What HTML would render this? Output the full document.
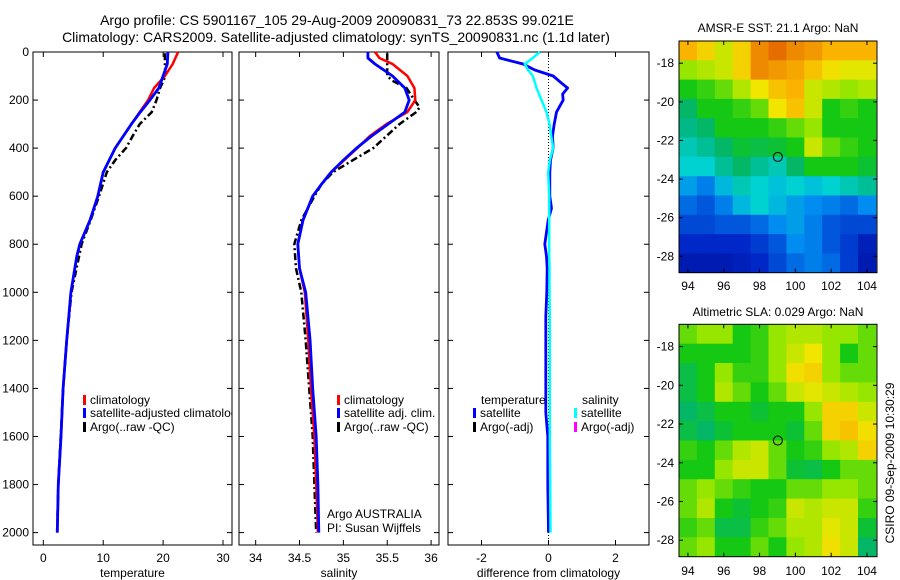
<!DOCTYPE html>
<html><head><meta charset="utf-8"><style>
body{margin:0;background:#fff;}
svg{display:block;font-family:"Liberation Sans",sans-serif;}
text{fill:#000;}
</style></head><body>
<svg id="fig" width="900" height="580" viewBox="0 0 900 580"></svg>
<script>
// ---------- data ----------
const depthT = [0,50,100,150,200,250,300,400,500,600,700,800,850,1000,1200,1400,1600,1800,2000];
const tempClim = [22.5,21.6,20.3,18.5,17.5,16.1,14.7,12.0,10.0,9.1,7.8,6.1,5.6,4.6,3.9,3.3,2.95,2.5,2.33];
const tempSat = [20.8,20.7,20.0,19.3,17.8,16.2,14.7,12.0,10.0,9.1,7.8,6.1,5.6,4.6,3.9,3.3,2.95,2.5,2.33];
const depthA = [5,50,100,150,200,250,300,350,400,450,500,600,700,800,1000,1200,1400,1600,1800,2000];
const tempArgo = [20.3,20.3,20.4,19.5,18.9,18.1,16.1,14.9,13.8,12.0,10.6,9.3,7.9,6.4,4.7,3.9,3.3,2.9,2.5,2.3];
const depthS = [0,25,50,100,150,200,250,300,350,400,450,500,550,600,700,800,900,1000,1200,1400,1600,1800,2000];
const salClim = [35.36,35.41,35.56,35.73,35.81,35.82,35.73,35.49,35.30,35.16,35.01,34.86,34.75,34.65,34.54,34.48,34.50,34.56,34.60,34.63,34.67,34.69,34.71];
const salSat = [35.28,35.28,35.36,35.56,35.70,35.75,35.70,35.51,35.32,35.15,35.00,34.86,34.75,34.65,34.54,34.48,34.50,34.57,34.62,34.65,34.69,34.71,34.72];
const depthSA = [5,50,100,120,150,200,230,250,300,350,400,450,500,550,600,700,800,900,1000,1200,1400,1600,1800,2000];
const salArgo = [35.5,35.5,35.5,35.56,35.72,35.81,35.87,35.83,35.64,35.49,35.34,35.11,34.88,34.75,34.67,34.52,34.44,34.46,34.52,34.57,34.61,34.65,34.67,34.69];
const depthD = [0,25,50,75,100,130,150,175,200,250,300,350,400,450,500,600,650,700,800,850,900,1000,1100,1300,1500,1600,1800,2000];
const diffTemp = [-1.54,-1.46,-0.76,-0.41,0.14,0.39,0.57,0.42,0.44,0.24,0.17,0.12,0.14,0.06,0.04,0.04,0.09,-0.01,-0.11,-0.06,-0.04,-0.05,-0.08,-0.08,-0.08,-0.02,-0.02,0.0];
const diffSal = [-0.26,-0.47,-0.71,-0.61,-0.47,-0.40,-0.36,-0.28,-0.21,-0.06,0.03,0.08,0.14,0.04,-0.01,0.02,0.02,0.02,0.02,0.02,0.03,0.03,0.04,0.04,0.04,0.04,0.05,0.06];
const depthTicks = [0,200,400,600,800,1000,1200,1400,1600,1800,2000];
const tempTicks = [0,10,20,30];
const salTicks = [34,34.5,35,35.5,36];
const salTickLabels = ["34","34.5","35","35.5","36"];
const diffTicks = [-2,0,2];
const lonTicks = [94,96,98,100,102,104];
const latTicks = [-18,-20,-22,-24,-26,-28];
const sstGrid = [
[0.72,0.68,0.62,0.68,0.78,0.82,0.78,0.76,0.72,0.72,0.72],
[0.58,0.60,0.62,0.68,0.78,0.76,0.74,0.70,0.66,0.64,0.64],
[0.50,0.52,0.55,0.60,0.65,0.70,0.72,0.62,0.60,0.58,0.60],
[0.45,0.50,0.50,0.52,0.55,0.65,0.70,0.62,0.50,0.52,0.50],
[0.43,0.45,0.50,0.50,0.50,0.52,0.55,0.58,0.50,0.50,0.50],
[0.40,0.42,0.45,0.48,0.47,0.48,0.50,0.62,0.55,0.52,0.50],
[0.38,0.38,0.42,0.45,0.42,0.40,0.45,0.50,0.50,0.50,0.48],
[0.32,0.28,0.35,0.40,0.38,0.36,0.38,0.36,0.38,0.40,0.42],
[0.25,0.22,0.28,0.35,0.38,0.35,0.32,0.30,0.28,0.25,0.30],
[0.20,0.20,0.22,0.22,0.25,0.30,0.32,0.28,0.22,0.20,0.20],
[0.15,0.15,0.15,0.15,0.18,0.22,0.30,0.28,0.22,0.18,0.12],
[0.10,0.10,0.10,0.12,0.15,0.20,0.25,0.28,0.25,0.18,0.10]];
const slaGrid = [
[0.55,0.58,0.58,0.50,0.52,0.58,0.60,0.60,0.58,0.58,0.55],
[0.50,0.50,0.50,0.50,0.52,0.58,0.62,0.65,0.58,0.50,0.55],
[0.47,0.50,0.58,0.52,0.52,0.58,0.66,0.68,0.58,0.55,0.55],
[0.47,0.50,0.60,0.55,0.50,0.55,0.62,0.64,0.62,0.60,0.58],
[0.45,0.47,0.50,0.50,0.48,0.50,0.50,0.58,0.68,0.68,0.62],
[0.47,0.45,0.48,0.50,0.50,0.50,0.48,0.55,0.68,0.70,0.66],
[0.52,0.50,0.55,0.60,0.62,0.55,0.50,0.52,0.58,0.60,0.68],
[0.50,0.50,0.58,0.62,0.62,0.55,0.48,0.47,0.50,0.55,0.55],
[0.55,0.58,0.55,0.52,0.50,0.50,0.55,0.55,0.58,0.58,0.55],
[0.55,0.60,0.50,0.48,0.50,0.52,0.62,0.60,0.62,0.62,0.52],
[0.52,0.55,0.47,0.47,0.52,0.55,0.60,0.60,0.64,0.62,0.48],
[0.55,0.58,0.50,0.50,0.55,0.50,0.58,0.60,0.66,0.62,0.45]];
const floatLon = 99.021, floatLat = -22.853;

// ---------- helpers ----------
const NS = "http://www.w3.org/2000/svg";
const svg = document.getElementById('fig');
function mk(tag, attrs, parent){const e=document.createElementNS(NS,tag);for(const k in attrs)e.setAttribute(k,attrs[k]);(parent||svg).appendChild(e);return e;}
function txt(x,y,s,anchor,size,parent){const t=mk('text',{x:x,y:y,'text-anchor':anchor||'start','font-size':size||12},parent);t.textContent=s;return t;}
const cmapStops=[[0,[0,0,130]],[0.15,[0,40,200]],[0.3,[0,140,240]],[0.38,[0,210,210]],[0.44,[0,180,120]],[0.5,[20,200,20]],[0.58,[150,230,0]],[0.65,[240,230,0]],[0.72,[250,180,0]],[0.82,[230,110,0]],[1,[200,40,0]]];
function cmap(v){v=Math.max(0,Math.min(1,v));
  for(let i=1;i<cmapStops.length;i++){const [a,ca]=cmapStops[i-1],[b,cb]=cmapStops[i];
    if(v<=b){const f=(v-a)/(b-a);return 'rgb('+ca.map((c,k)=>Math.round(c+(cb[k]-c)*f)).join(',')+')';}}
  return 'rgb(200,40,0)';}

const TOP=52, BOT=545;
const yD = d => TOP + d*0.2403;

function panel(name,x0,x1,xmin,xmax,ticks,labels,xtitle,leftLabels){
  const g=mk('g',{});  
  const xs=v=>x0+(v-xmin)/(xmax-xmin)*(x1-x0);
  mk('rect',{x:x0,y:TOP,width:x1-x0,height:BOT-TOP,fill:'#fff',stroke:'#000','stroke-width':1},g);
  depthTicks.forEach(d=>{const y=yD(d);
    mk('line',{x1:x0,y1:y,x2:x0+5,y2:y,stroke:'#000'},g);
    mk('line',{x1:x1-5,y1:y,x2:x1,y2:y,stroke:'#000'},g);
    if(leftLabels){const t=txt(x0-4,y+4,String(d),'end',12,g);}
  });
  ticks.forEach((v,i)=>{const x=xs(v);
    mk('line',{x1:x,y1:TOP,x2:x,y2:TOP+5,stroke:'#000'},g);
    mk('line',{x1:x,y1:BOT-5,x2:x,y2:BOT,stroke:'#000'},g);
    const t=txt(x,562,labels[i],'middle',12,g);
  });
  const xt=txt((x0+x1)/2,577,xtitle,'middle',12,g);
  return {g,xs};
}
function line(g,xs,vals,depths,color,w,dash,name){
  const pts=vals.map((v,i)=>xs(v).toFixed(1)+','+yD(depths[i]).toFixed(1)).join(' ');
  const p=mk('polyline',{points:pts,fill:'none',stroke:color,'stroke-width':w,'stroke-dasharray':dash||'none','stroke-linejoin':'round'},g);
  
  
  return p;
}
function legend(g,x,y,color,label,name){
  mk('rect',{x:x,y:y-9,width:3,height:10,fill:color},g);
  const t=txt(x+7,y,label,'start',12,g);
  
  
}

let t1=txt(337,25,'Argo profile: CS 5901167_105 29-Aug-2009 20090831_73 22.853S 99.021E','middle',14);

let t2=txt(336,42,'Climatology: CARS2009. Satellite-adjusted climatology: synTS_20090831.nc (1.1d later)','middle',14);


const P1=panel('temperature-panel',33,232,-1.72,31.5,tempTicks,tempTicks.map(String),'temperature',true);
line(P1.g,P1.xs,tempArgo,depthA,'#000',2.5,'7,3,2,3','temp-argo-line');
line(P1.g,P1.xs,tempClim,depthT,'#f00',2.5,null,'temp-climatology-line');
line(P1.g,P1.xs,tempSat,depthT,'#00f',2.8,null,'temp-satellite-line');
const c1=mk('svg',{x:33,y:380,width:199,height:60,overflow:'hidden'},P1.g);
legend(c1,50,24,'#f00','climatology','legend-climatology');
legend(c1,50,37,'#00f','satellite-adjusted climatology','legend-satellite-adjusted');
legend(c1,50,51,'#000','Argo(..raw -QC)','legend-argo');

const P2=panel('salinity-panel',239,439,33.81,36.09,salTicks,salTickLabels,'salinity',false);
line(P2.g,P2.xs,salArgo,depthSA,'#000',2.5,'7,3,2,3','sal-argo-line');
line(P2.g,P2.xs,salClim,depthS,'#f00',2.5,null,'sal-climatology-line');
line(P2.g,P2.xs,salSat,depthS,'#00f',2.8,null,'sal-satellite-line');
legend(P2.g,337,404,'#f00','climatology','legend-climatology');
legend(P2.g,337,417,'#00f','satellite adj. clim.','legend-satellite-adj');
legend(P2.g,337,431,'#000','Argo(..raw -QC)','legend-argo');
let a1=txt(327,518,'Argo AUSTRALIA','start',12,P2.g);
let a2=txt(327,532,'PI: Susan Wijffels','start',12,P2.g);

const P3=panel('difference-panel',448,649,-3,3,diffTicks,diffTicks.map(String),'difference from climatology',false);
mk('line',{x1:P3.xs(0),y1:TOP,x2:P3.xs(0),y2:BOT,stroke:'#000','stroke-dasharray':'1,2'},P3.g);
line(P3.g,P3.xs,diffTemp,depthD,'#00f',2.8,null,'diff-temp-satellite-line');
line(P3.g,P3.xs,diffSal,depthD,'#0ff',2.5,null,'diff-sal-satellite-line');
let lt=txt(481,404,'temperature','start',12,P3.g);
let ls=txt(582,404,'salinity','start',12,P3.g);
legend(P3.g,473,417,'#00f','satellite','legend-temp-satellite');
legend(P3.g,473,431,'#000','Argo(-adj)','legend-temp-argo');
legend(P3.g,574,417,'#0ff','satellite','legend-sal-satellite');
legend(P3.g,574,431,'#f0f','Argo(-adj)','legend-sal-argo');

function map(name,grid,top,bottom,title,titleY,labelY){
  const g=mk('g',{});  
  const x0=679,x1=877, lonMin=93.5, lonMax=104.56, latTop=-16.85, latBot=-28.85;
  const xs=v=>x0+(v-lonMin)/(lonMax-lonMin)*(x1-x0);
  const ys=v=>top+(latTop-v)/(latTop-latBot)*(bottom-top);
  const clip=mk('svg',{x:x0,y:top,width:x1-x0,height:bottom-top,overflow:'hidden'},g);
  grid.forEach((row,i)=>row.forEach((v,j)=>{
    const cx=xs(lonMin+j), cy=ys(latTop-i);
    const r=mk('rect',{x:(cx-x0).toFixed(1),y:(cy-top).toFixed(1),width:(xs(lonMin+j+1)-cx+0.5).toFixed(1),height:(ys(latTop-i-1)-cy+0.5).toFixed(1),fill:cmap(v)},clip);
    
    
  }));
  mk('rect',{x:x0,y:top,width:x1-x0,height:bottom-top,fill:'none',stroke:'#000'},g);
  lonTicks.forEach(v=>{const x=xs(v);mk('line',{x1:x,y1:top,x2:x,y2:top+4,stroke:'#000'},g);mk('line',{x1:x,y1:bottom-4,x2:x,y2:bottom,stroke:'#000'},g);
    const t=txt(x,labelY,String(v),'middle',12,g);});
  latTicks.forEach(v=>{const y=ys(v);mk('line',{x1:x0,y1:y,x2:x0+4,y2:y,stroke:'#000'},g);mk('line',{x1:x1-4,y1:y,x2:x1,y2:y,stroke:'#000'},g);
    const t=txt(x0-5,y+4,String(v),'end',12,g);});
  const c=mk('circle',{cx:xs(floatLon),cy:ys(floatLat),r:4.5,fill:'none',stroke:'#000'},g);
  
  const tt=txt(778,titleY,title,'middle',12,g);
}
map('sst-map',sstGrid,41,272.7,'AMSR-E SST: 21.1 Argo: NaN',32,290);
map('sla-map',slaGrid,324.3,556.7,'Altimetric SLA: 0.029 Argo: NaN',316,575);

const cs=txt(0,0,'CSIRO 09-Sep-2009 10:30:29','middle',12);
cs.setAttribute('transform','translate(894,463) rotate(-90)');

</script>
</body></html>
